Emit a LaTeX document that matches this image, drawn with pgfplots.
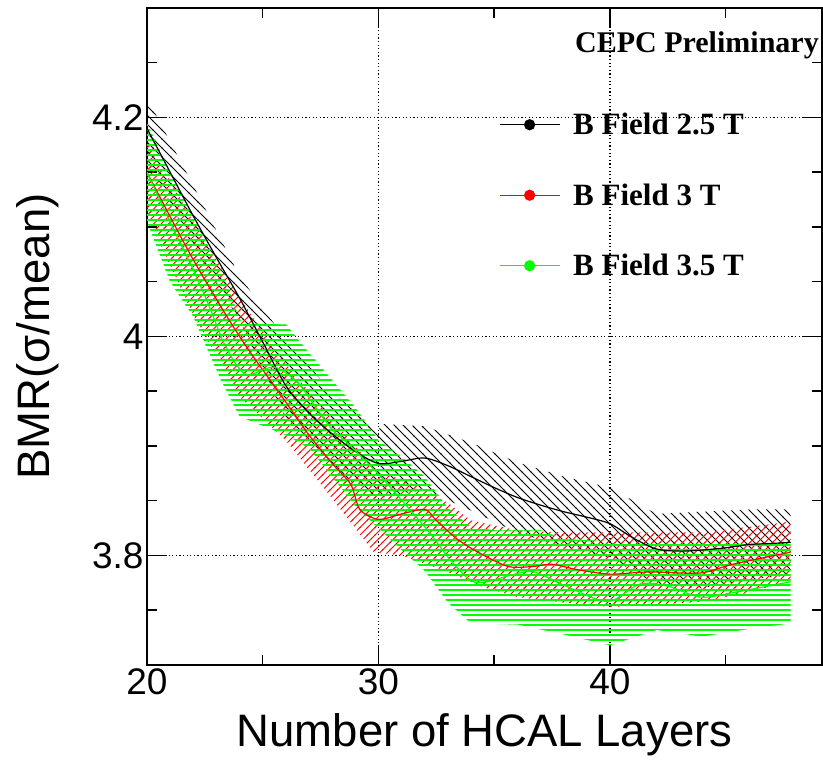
\documentclass[border=0pt]{standalone}
\usepackage{fontspec}
\setmainfont{Liberation Sans}
\newfontfamily\timesfont{Liberation Serif}
\usepackage{pgfplots}
\pgfplotsset{compat=1.18}
\usetikzlibrary{patterns}
\definecolor{rred}{RGB}{255,0,0}
\definecolor{rgreen}{RGB}{0,255,0}
\pgfdeclarepatternformonly{bhatch}{\pgfqpoint{-1pt}{-1pt}}{\pgfqpoint{10pt}{10pt}}{\pgfqpoint{9pt}{9pt}}{%
  \pgfsetlinewidth{0.8pt}\pgfpathmoveto{\pgfqpoint{-0.5pt}{9.5pt}}\pgfpathlineto{\pgfqpoint{9.5pt}{-0.5pt}}\pgfusepath{stroke}}
\pgfdeclarepatternformonly{rhatch}{\pgfqpoint{-1pt}{-1pt}}{\pgfqpoint{8.5pt}{8.5pt}}{\pgfqpoint{7.5pt}{7.5pt}}{%
  \pgfsetlinewidth{0.8pt}\pgfpathmoveto{\pgfqpoint{-0.5pt}{-0.5pt}}\pgfpathlineto{\pgfqpoint{8pt}{8pt}}\pgfusepath{stroke}}
\pgfdeclarepatternformonly{ghatch}{\pgfqpoint{-1pt}{-1pt}}{\pgfqpoint{6pt}{1pt}}{\pgfqpoint{5pt}{5pt}}{%
  \pgfsetlinewidth{1.3pt}\pgfpathmoveto{\pgfqpoint{-1pt}{0pt}}\pgfpathlineto{\pgfqpoint{6pt}{0pt}}\pgfusepath{stroke}}
\begin{document}
\begin{tikzpicture}
\begin{axis}[
  scale only axis, width=675pt, height=657pt,
  xmin=20, xmax=49.16, ymin=3.7, ymax=4.3,
  axis line style={line width=2.5pt, line cap=rect},
  tick style={line width=1.5pt, black},
  major tick length=20pt, minor tick length=10pt,
  tick pos=both, xticklabel pos=lower, yticklabel pos=left,
  xtick={20,30,40}, xticklabels={20,30,40},
  minor xtick={25,35,45},
  ytick={3.8,4.0,4.2}, yticklabels={3.8,4,4.2},
  minor ytick={3.75,3.85,3.9,3.95,4.05,4.1,4.15,4.25},
  /pgf/number format/assume math mode=true,
  ticklabel style={font=\fontsize{37}{37}\selectfont},
  grid=major,
  major grid style={line width=1.2pt, dash pattern=on 1.2pt off 2.4pt, black},
  label style={font=\fontsize{45.5}{45.5}\selectfont},
  xlabel={Number of HCAL Layers},
  ylabel={BMR(σ/mean)},
  xlabel style={at={(axis description cs:0.5,-0.1248)}, anchor=base},
  ylabel style={at={(axis description cs:-0.1437,0.5)}, anchor=base, rotate=0},
  legend style={at={(axis description cs:0.5215,0.8402)}, anchor=north west,
    draw=none, fill=none, inner sep=0pt, outer sep=0pt, row sep=47pt,
    font=\timesfont\bfseries\fontsize{31}{31}\selectfont,
    nodes={inner sep=0pt},
    /tikz/every odd column/.append style={column sep=13pt}},
  legend cell align=left,
  legend image code/.code={\draw[#1, mark repeat=2, mark phase=2] plot coordinates {(0pt,0pt) (30pt,0pt) (60pt,0pt)};},
]
% black band (2.5 T)
\addplot[draw=none, forget plot, pattern=bhatch, pattern color=black] coordinates {
(20,4.218)(22,4.138)(24,4.055)(26,3.997)(28,3.949)(30,3.915)(30.2,3.920)(32,3.918)(34,3.903)(36,3.885)(38,3.872)(40,3.862)(42,3.838)(44,3.840)(46,3.842)(47.8,3.842)
(47.8,3.782)(46,3.778)(44,3.770)(42,3.774)(40,3.798)(38,3.808)(36,3.821)(34,3.841)(32,3.860)(30,3.853)(28,3.878)(26,3.925)(24,4.015)(22,4.082)(20,4.162)};
% red band (3 T)
\addplot[draw=none, forget plot, pattern=rhatch, pattern color=rred] coordinates {
(20,4.180)(22,4.105)(24,4.035)(26,3.975)(28,3.925)(30,3.875)(31,3.870)(32,3.860)(33,3.848)(34,3.832)(36,3.823)(38,3.821)(40,3.821)(42,3.821)(44,3.821)(46,3.826)(47.8,3.831)
(47.8,3.778)(46,3.766)(44,3.758)(42,3.755)(40,3.753)(38,3.757)(36,3.762)(34.4,3.772)(33,3.785)(31,3.800)(29.8,3.803)(28,3.852)(26,3.905)(24,3.945)(22,4.020)(20,4.110)};
% green band (3.5 T)
\addplot[draw=none, forget plot, pattern=ghatch, pattern color=rgreen] coordinates {
(20,4.195)(21,4.150)(22,4.110)(23.4,4.050)(23.9,4.022)(24.1,4.012)(26,4.011)(27,3.985)(28,3.960)(29,3.935)(30,3.905)(31,3.890)(32,3.872)(33,3.843)(34,3.826)(35,3.823)(37,3.823)(38,3.815)(40,3.813)(47.8,3.812)
(47.8,3.738)(46,3.733)(44,3.726)(42,3.732)(40,3.718)(38,3.728)(36,3.737)(34,3.738)(33,3.757)(32,3.786)(31,3.805)(30,3.825)(29,3.845)(28,3.872)(27,3.898)(26,3.910)(24,3.927)(23.2,3.960)(22,4.018)(21,4.050)(20,4.105)};
% central curves
\addplot[black, line width=1.2pt, smooth, tension=0.5, forget plot] coordinates {
(20,4.19)(21,4.15)(22,4.11)(23,4.072)(24,4.035)(25,3.995)(26,3.955)(27,3.93)(28,3.911)(29,3.895)(30,3.884)(31,3.886)(32,3.889)(33,3.882)(34,3.872)(35,3.862)(36,3.853)(37,3.846)(38,3.840)(39,3.835)(40,3.829)(41,3.816)(42,3.806)(43,3.804)(44,3.805)(45,3.807)(46,3.810)(47,3.811)(47.8,3.812)};
\addplot[rred, line width=1.2pt, smooth, tension=0.5, forget plot] coordinates {
(20,4.15)(22,4.07)(24,4.00)(26,3.94)(27,3.91)(28,3.884)(28.8,3.865)(29.2,3.842)(30,3.833)(31,3.838)(32,3.842)(32.5,3.832)(33.4,3.815)(34.3,3.803)(35.6,3.790)(36.7,3.790)(37.5,3.792)(38.6,3.787)(40,3.783)(41.7,3.785)(43.9,3.784)(45.3,3.792)(47.8,3.803)};
\addplot[rgreen, line width=1.2pt, smooth, tension=0.5, forget plot] coordinates {
(20,4.150)(21.1,4.100)(22,4.061)(22.7,4.027)(23.3,3.995)(23.9,3.973)(24.4,3.965)(25.5,3.972)(26.5,3.958)(27.2,3.938)(28,3.915)(28.8,3.900)(30.1,3.872)(31.1,3.848)(32.2,3.821)(33.1,3.796)(34,3.777)(34.7,3.776)(35.7,3.782)(36.7,3.785)(38.1,3.772)(39.9,3.758)(41.3,3.774)(42.5,3.772)(43.9,3.762)(45.3,3.766)(47.8,3.776)};
% legend
\addlegendimage{black, line width=1.2pt, mark=*, mark size=5pt}
\addlegendentry{\rule{0pt}{22pt}B Field 2.5 T}
\addlegendimage{rred, line width=1.2pt, mark=*, mark size=5pt}
\addlegendentry{\rule{0pt}{22pt}B Field 3 T}
\addlegendimage{rgreen, line width=1.2pt, mark=*, mark size=5pt}
\addlegendentry{\rule{0pt}{22pt}B Field 3.5 T}
\node[anchor=base west, inner sep=0pt, font=\timesfont\bfseries\fontsize{30}{30}\selectfont] at (axis description cs:0.634,0.9315) {CEPC Preliminary};
\end{axis}
\pgfresetboundingbox
\path[use as bounding box] ([xshift=-147pt,yshift=-95pt]current axis.south west) rectangle ([xshift=1pt,yshift=8pt]current axis.north east);
\end{tikzpicture}
\end{document}
